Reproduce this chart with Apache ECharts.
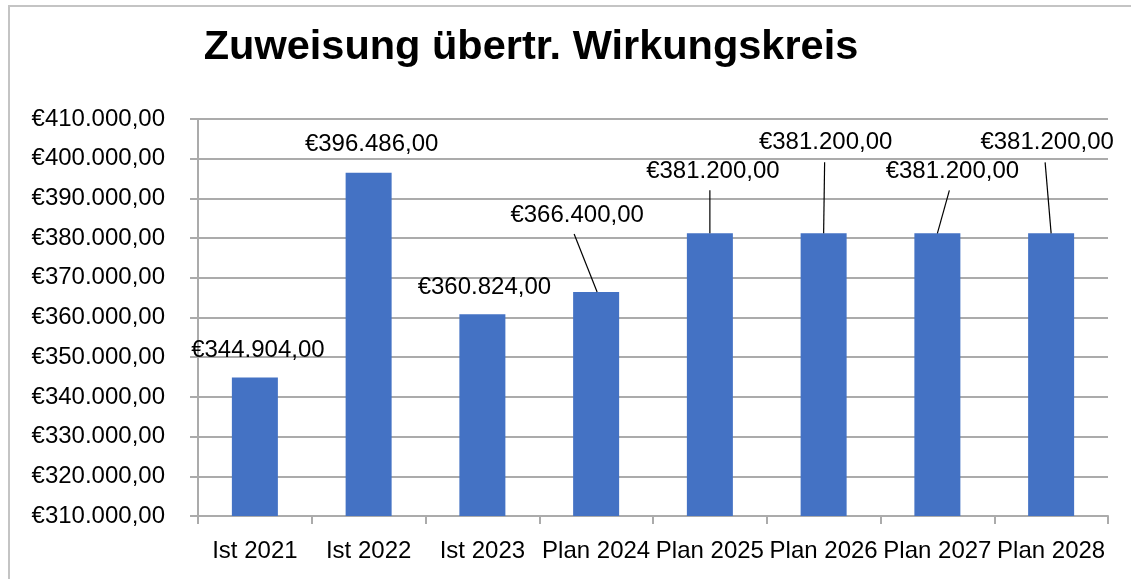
<!DOCTYPE html>
<html><head><meta charset="utf-8">
<script src="https://cdn.jsdelivr.net/npm/echarts@6/dist/echarts.min.js"></script>
<style>
html,body{margin:0;padding:0;background:#fff;overflow:hidden}
#frame{position:absolute;left:8px;top:5px;width:1140px;height:600px;border-left:2px solid #c4c4c4;border-top:2px solid #c4c4c4;box-sizing:border-box;}
#chart{position:absolute;left:0;top:0;width:1131px;height:579px}
</style></head><body>
<div id="frame"></div>
<div id="chart"></div>
<script>
// ---- data ----
const titleText = 'Zuweisung übertr. Wirkungskreis';
const categories = ['Ist 2021', 'Ist 2022', 'Ist 2023', 'Plan 2024', 'Plan 2025', 'Plan 2026', 'Plan 2027', 'Plan 2028'];
const values = [344904, 396486, 360824, 366400, 381200, 381200, 381200, 381200];
const yMin = 310000;
const yMax = 410000;
const yStep = 10000;

// ---- label placement (pixels, relative to bar top centre) ----
const labelOffsets = [[3, -27], [3, -28], [2, -27], [-19, -77], [3, -62], [2, -91], [15, -62], [-4, -91]];
// leader lines: start relative to label centre, end relative to bar top centre
const leaderIdx = [3, 4, 5, 6, 7];
const leaderStart = { 3: [-3, 19], 4: [-3, 19], 5: [-1, 20], 6: [-3, 19], 7: [-2, 20] };
const leaderEnd = { 3: [1, 0], 4: [0, 0], 5: [0, 0], 6: [0, 0], 7: [0, 0] };

function fmtEuro(v) {
  const neg = v < 0; v = Math.abs(v);
  const fixed = v.toFixed(2);
  let [intPart, dec] = fixed.split('.');
  intPart = intPart.replace(/\B(?=(\d{3})+(?!\d))/g, '.');
  return (neg ? '-' : '') + '€' + intPart + ',' + dec;
}

const FONT = 'Liberation Sans';
const FS = 24;
const GRID_COLOR = '#ababab';

const chart = echarts.init(document.getElementById('chart'), null, { renderer: 'canvas' });
chart.setOption({
  animation: false,
  backgroundColor: 'transparent',
  title: {
    text: titleText,
    left: 526,
    top: 22,
    textAlign: 'center',
    textStyle: { fontFamily: FONT, fontSize: 41.5, fontWeight: 'bold', color: '#000' }
  },
  grid: { left: 198, right: 23, top: 119, bottom: 63, containLabel: false },
  xAxis: {
    type: 'category',
    data: categories,
    boundaryGap: true,
    axisLine: { show: true, lineStyle: { color: GRID_COLOR, width: 2 } },
    axisTick: { show: true, length: 8, alignWithLabel: false, lineStyle: { color: GRID_COLOR, width: 2 } },
    axisLabel: { margin: 23, fontFamily: FONT, fontSize: FS, color: '#000', interval: 0 }
  },
  yAxis: {
    type: 'value',
    min: yMin,
    max: yMax,
    interval: yStep,
    axisLine: { show: true, lineStyle: { color: GRID_COLOR, width: 2 } },
    axisTick: { show: true, length: 8, lineStyle: { color: GRID_COLOR, width: 2 } },
    splitLine: { show: true, lineStyle: { color: GRID_COLOR, width: 2 } },
    axisLabel: { margin: 33, fontFamily: FONT, fontSize: FS, color: '#000', formatter: fmtEuro }
  },
  series: [
    {
      type: 'bar',
      data: values,
      barWidth: 46,
      itemStyle: { color: '#4472C4' },
      label: {
        show: true,
        position: 'top',
        fontFamily: FONT,
        fontSize: FS,
        color: '#000',
        formatter: p => fmtEuro(p.value)
      },
      labelLayout: function (params) {
        const r = params.rect;
        const off = labelOffsets[params.dataIndex];
        return {
          x: r.x + r.width / 2 + off[0],
          y: r.y + off[1],
          align: 'center',
          verticalAlign: 'middle'
        };
      },
      z: 2
    },
    {
      type: 'custom',
      silent: true,
      z: 3,
      data: leaderIdx.map(i => [i, values[i]]),
      renderItem: function (params, api) {
        const i = api.value(0);
        const p = api.coord([i, api.value(1)]);
        const off = labelOffsets[i];
        const s = leaderStart[i];
        const e = leaderEnd[i];
        return {
          type: 'line',
          shape: {
            x1: p[0] + off[0] + s[0], y1: p[1] + off[1] + s[1],
            x2: p[0] + e[0], y2: p[1] + e[1]
          },
          style: { stroke: '#000', lineWidth: 1.2 }
        };
      }
    }
  ]
});
</script>
</body></html>
